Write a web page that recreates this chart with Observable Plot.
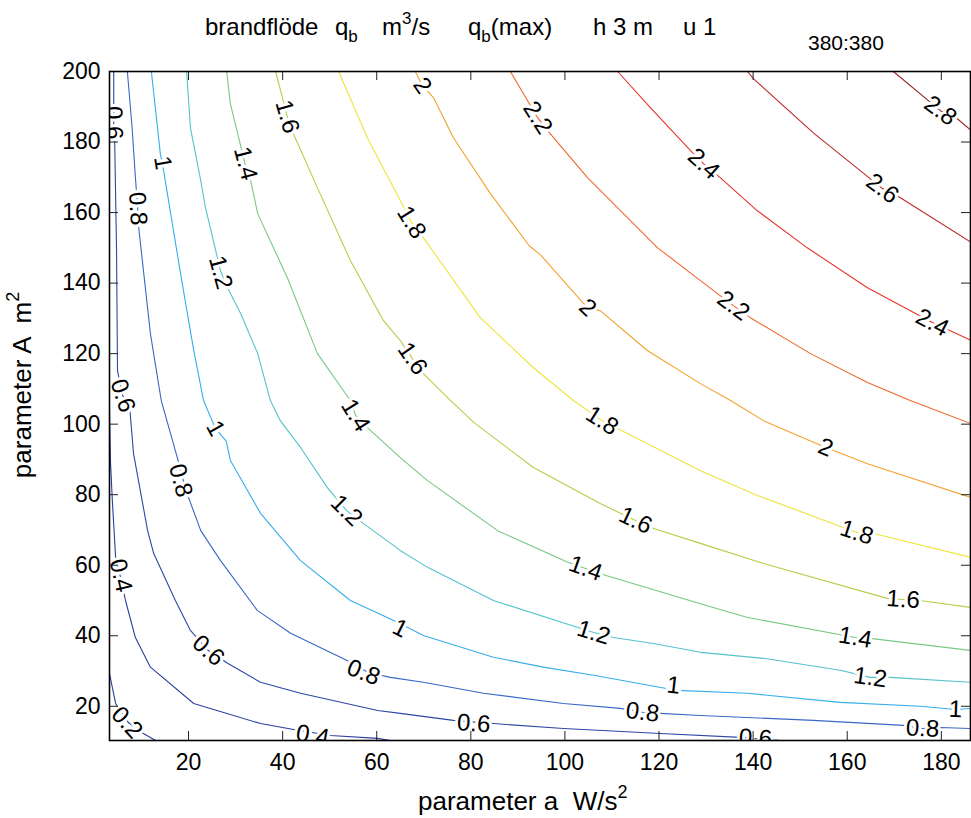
<!DOCTYPE html>
<html><head><meta charset="utf-8">
<script src="https://cdn.jsdelivr.net/npm/d3@7"></script>
<script src="https://cdn.jsdelivr.net/npm/@observablehq/plot@0.6"></script>
<style>
html,body{margin:0;padding:0;background:#fff;}
#chart{position:relative;width:971px;height:818px;}
</style></head><body><div id="chart"></div>
<script>
// contour levels of q_b (m3/s)
const levels = [0.2, 0.4, 0.6, 0.8, 1, 1.2, 1.4, 1.6, 1.8, 2, 2.2, 2.4, 2.6, 2.8];

const c02 = [[3.2,29.3],[4.5,20.8],[7.2,15.4],[10.4,12.3],[13.0,10.3]];
const c04 = [[3.2,103.5],[3.4,89.7],[3.8,78.4],[4.5,62.2],[5.6,56.3],[6.6,50.0],[8.7,39.5],[11.9,31.1],[21.1,20.8],[35.3,15.1],[43.2,13.2],[50.2,11.7],[60.2,10.9],[62.9,10.3]];
const c06 = [[4.1,200],[4.1,191.7],[4.1,184.6],[4.3,180.4],[4.7,149.2],[4.9,115.2],[6.0,108.1],[7.5,104.7],[8.3,91.7],[11.3,69.8],[12.6,63.3],[17.2,50.0],[20.4,41.5],[24.2,35.8],[28.3,32.2],[35.3,26.8],[43.8,23.7],[60.2,18.8],[65.0,18.0],[76.3,16.0],[84.8,15.1],[99.7,13.7],[120.3,12.3],[137.3,11.2],[145.8,10.3]];
const c08 = [[7.0,200],[8.0,184.1],[8.7,170.0],[9.2,161.1],[9.4,155.8],[11.9,125.6],[14.2,106.7],[17.6,90.6],[18.9,84.0],[20.0,79.2],[22.6,69.8],[26.8,61.3],[34.6,47.2],[41.7,40.7],[53.7,33.0],[58.2,29.6],[62.9,28.2],[69.9,26.8],[82.7,23.7],[99.7,20.8],[111.8,19.4],[116.5,18.3],[120.3,18.0],[128.8,17.4],[152.8,16.0],[171.9,14.6],[176.0,13.7],[179.8,14.0],[186.4,13.7]];
const c10 = [[12.1,200],[14.0,176.7],[14.7,171.9],[18.3,142.7],[21.1,120.9],[23.2,106.7],[25.7,98.8],[28.0,95.2],[28.9,89.7],[35.3,74.7],[43.8,61.3],[54.4,50.0],[63.6,44.3],[66.5,42.4],[69.9,40.1],[84.8,33.9],[95.4,31.1],[106.1,28.8],[123.9,24.5],[138.8,23.7],[158.5,21.1],[175.5,20.0],[183.0,19.1],[186.4,19.4]];
const c12 = [[19.6,200],[20.4,184.0],[22.6,169.0],[23.6,161.4],[26.8,143.5],[28.3,138.7],[31.1,131.3],[34.7,120.0],[37.4,106.7],[39.5,101.0],[43.8,93.4],[49.5,82.0],[53.6,75.5],[57.2,71.8],[65.0,64.2],[70.8,59.4],[84.8,50.0],[106.1,40.9],[110.3,39.5],[118.8,37.8],[128.8,35.3],[142.2,33.6],[158.5,30.2],[164.9,28.2],[169.2,28.2],[186.4,26.8]];
const c14 = [[28.1,200],[28.9,190.8],[32.1,173.3],[33.2,169.0],[34.7,159.7],[41.0,141.5],[47.4,120.0],[54.4,106.7],[55.5,102.5],[58.0,99.0],[65.0,90.5],[70.8,84.0],[85.7,69.8],[100.5,60.9],[104.4,59.1],[107.5,57.6],[128.8,49.1],[138.8,45.2],[161.7,39.5],[165.3,39.2],[186.4,35.8]];
const c16 = [[38.5,200],[41.0,187.2],[42.3,182.3],[47.4,167.0],[54.4,146.4],[61.4,129.4],[65.0,123.7],[67.6,118.6],[69.9,114.3],[75.7,106.7],[80.6,100.5],[93.3,87.7],[107.5,77.5],[115.0,72.7],[118.2,70.7],[128.8,66.2],[142.2,60.5],[168.5,50.6],[171.9,50.3],[175.5,50.0],[186.4,48.0]];
const c18 = [[51.9,200],[58.0,181.2],[65.0,163.4],[67.4,157.2],[69.9,152.9],[82.0,130.2],[93.3,116.0],[101.8,106.7],[107.9,101.0],[111.2,98.8],[128.8,86.8],[140.9,79.8],[162.0,69.3],[165.6,69.0],[186.4,62.2]];
const c20 = [[68.2,200],[69.7,196.0],[72.1,192.5],[76.3,181.2],[84.2,165.3],[92.4,150.6],[94.8,148.0],[104.8,133.0],[107.5,132.2],[117.5,120.9],[128.8,111.5],[135.2,106.7],[142.2,101.0],[155.4,93.4],[157.1,92.5],[164.3,88.8],[186.4,79.2]];
const c22 = [[88.4,200],[94.2,186.9],[96.9,182.3],[104.8,169.9],[119.7,150.0],[128.8,140.7],[135.8,133.6],[139.4,130.2],[152.2,120.0],[164.3,111.8],[173.4,106.7],[186.2,100.2]];
const c24 = [[111.2,200],[118.2,189.7],[127.3,176.7],[129.5,173.8],[133.0,169.9],[140.9,160.5],[151.5,150.0],[164.3,138.7],[178.1,128.8],[181.9,126.5],[186.4,123.7]];
const c26 = [[138.8,200],[140.1,197.9],[152.8,182.6],[167.5,166.8],[171.3,164.2],[186.4,151.5]];
const c28 = [[169.8,200],[179.8,188.9],[183.4,186.6],[186.4,183.2]];
const contourLines = [c02, c04, c06, c08, c10, c12, c14, c16, c18, c20, c22, c24, c26, c28];

// inline contour label spots: [level, a, A]
const labelSpots = [
  [0.2,6.9,15.4],
  [0.4,5.6,57.1],[0.4,46.4,11.7],
  [0.6,4.1,185.5],[0.6,6.0,108.1],[0.6,24.2,35.8],[0.6,80.6,15.1],[0.6,140.5,11.0],
  [0.8,9.2,161.1],[0.8,18.3,84.0],[0.8,57.2,29.6],[0.8,116.5,18.3],[0.8,176.0,13.7],
  [1,14.5,174.1],[1,25.7,98.8],[1,65.0,42.1],[1,123.1,25.9],[1,183.0,19.1],
  [1.2,26.8,143.0],[1.2,53.6,75.5],[1.2,106.1,40.9],[1.2,164.9,28.2],
  [1.4,32.1,173.9],[1.4,55.5,102.5],[1.4,104.4,59.1],[1.4,161.7,39.5],
  [1.6,41.0,187.2],[1.6,67.6,118.6],[1.6,115.0,72.7],[1.6,171.9,50.3],
  [1.8,67.4,157.2],[1.8,107.9,101.0],[1.8,162.0,69.3],
  [2,69.7,196.0],[2,104.8,133.0],[2,155.4,93.4],
  [2.2,94.2,186.9],[2.2,135.8,133.6],
  [2.4,129.5,173.8],[2.4,178.1,128.8],
  [2.6,167.5,166.8],
  [2.8,179.8,188.9]
];

const xTicks = [20, 40, 60, 80, 100, 120, 140, 160, 180];
const yTicks = [20, 40, 60, 80, 100, 120, 140, 160, 180, 200];
const xDomain = [3.2, 186.2];
const yDomain = [10.3, 200];

const lineColors = ["#2a3d98","#2b3f9c","#2d47a4","#3868c4","#35aeea","#55c2cc","#78c884","#b4cf48","#eee43a","#f4a12e","#f0672c","#e8352c","#bd2b2b","#9a2a2a"];

const W = 971, H = 818, mL = 109, mR = 1, mT = 71, mB = 78;
const plotW = W - mL - mR, plotH = H - mT - mB;
const kx = plotW / (xDomain[1] - xDomain[0]);
const ky = plotH / (yDomain[1] - yDomain[0]);

const rows = levels.flatMap((lv, i) => contourLines[i].map(([x, y]) => ({level: lv, x, y})));

const labels = labelSpots.map(([lv, x, y]) => {
  const pts = contourLines[levels.indexOf(lv)];
  let bi = 0, bd = Infinity;
  pts.forEach(([px, py], i) => {
    const d = ((px - x) * kx) ** 2 + ((py - y) * ky) ** 2;
    if (d < bd) { bd = d; bi = i; }
  });
  const a = pts[Math.max(0, bi - 1)], b = pts[Math.min(pts.length - 1, bi + 1)];
  let ang = Math.atan2(-(b[1] - a[1]) * ky, (b[0] - a[0]) * kx) * 180 / Math.PI;
  if (ang > 90) ang -= 180;
  if (ang < -90) ang += 180;
  return {level: lv, x, y, text: String(lv), angle: ang};
});

const FONT = "'Liberation Sans', Arial, Helvetica, sans-serif";

const chart = Plot.plot({
  width: W, height: H,
  marginLeft: mL, marginRight: mR, marginTop: mT, marginBottom: mB,
  x: {domain: xDomain},
  y: {domain: yDomain},
  color: {type: "ordinal", domain: levels, range: lineColors},
  style: {fontFamily: FONT, fontSize: "23px", background: "white", color: "black", overflow: "visible"},
  marks: [
    Plot.line(rows, {x: "x", y: "y", z: "level", stroke: "level", strokeWidth: 1.1, clip: true}),
    Plot.text(labels, {x: "x", y: "y", text: "text", rotate: "angle", fontSize: 24, fill: "black",
      stroke: "white", strokeWidth: 6, paintOrder: "stroke", clip: true}),
    Plot.tickX(xTicks, {x: d => d, insetTop: plotH - 9, stroke: "#222"}),
    Plot.tickX(xTicks, {x: d => d, insetBottom: plotH - 9, stroke: "#222"}),
    Plot.tickY(yTicks, {y: d => d, insetRight: plotW - 9, stroke: "#222"}),
    Plot.tickY(yTicks, {y: d => d, insetLeft: plotW - 9, stroke: "#222"}),
    Plot.frame({stroke: "black", strokeWidth: 1.6}),
    Plot.axisX({ticks: xTicks, tickSize: 0, tickPadding: 13, label: null, fontSize: 23}),
    Plot.axisY({ticks: yTicks, tickSize: 0, tickPadding: 9, label: null, fontSize: 23})
  ]
});

document.getElementById("chart").appendChild(chart);
const svg = d3.select(chart);
const g = svg.append("g").attr("font-family", FONT).attr("fill", "black").attr("text-anchor", "start");

// title
g.append("text").attr("x", 205).attr("y", 35).attr("font-size", 24).text("brandflöde");
const t1 = g.append("text").attr("x", 335).attr("y", 35).attr("font-size", 24);
t1.append("tspan").text("q");
t1.append("tspan").attr("dy", 7).attr("font-size", 17).text("b");
const t2 = g.append("text").attr("x", 382).attr("y", 35).attr("font-size", 24);
t2.append("tspan").text("m");
t2.append("tspan").attr("dy", -11).attr("font-size", 17).text("3");
t2.append("tspan").attr("dy", 11).text("/s");
const t3 = g.append("text").attr("x", 468).attr("y", 35).attr("font-size", 24);
t3.append("tspan").text("q");
t3.append("tspan").attr("dy", 7).attr("font-size", 17).text("b");
t3.append("tspan").attr("dy", -7).text("(max)");
g.append("text").attr("x", 593).attr("y", 35).attr("font-size", 24).text("h 3 m");
g.append("text").attr("x", 683).attr("y", 35).attr("font-size", 24).text("u 1");
g.append("text").attr("x", 808).attr("y", 50).attr("font-size", 21).text("380:380");

// x label
const xl = g.append("text").attr("x", 418).attr("y", 810).attr("font-size", 26).attr("xml:space", "preserve");
xl.append("tspan").text("parameter a  W/s");
xl.append("tspan").attr("dy", -12).attr("font-size", 18).text("2");

// y label
const yl = g.append("text").attr("transform", "translate(31,385) rotate(-90)").attr("text-anchor", "middle")
  .attr("font-size", 26).attr("xml:space", "preserve");
yl.append("tspan").text("parameter A  m");
yl.append("tspan").attr("dy", -12).attr("font-size", 18).text("2");
</script>
</body></html>
